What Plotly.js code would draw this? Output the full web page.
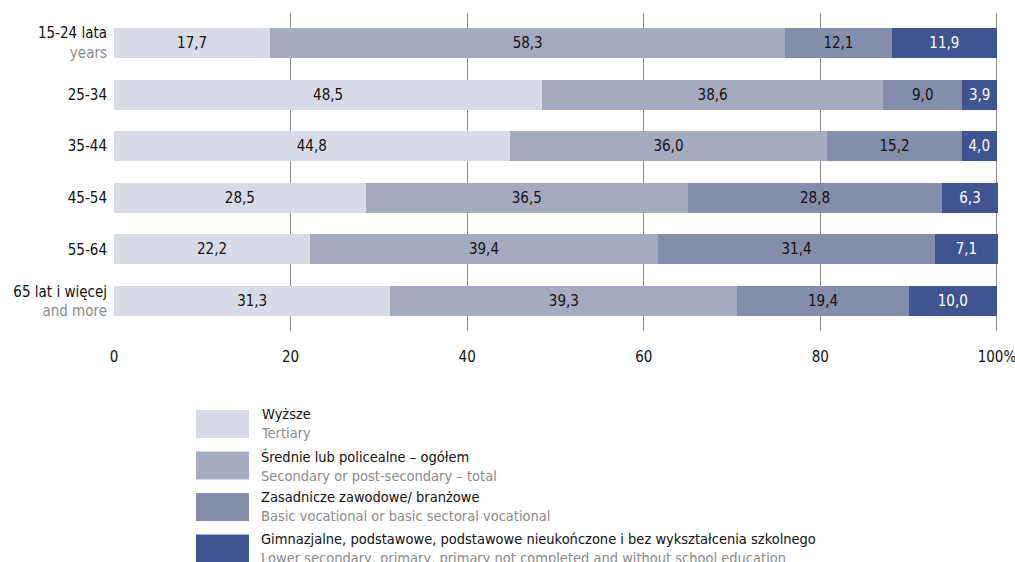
<!DOCTYPE html>
<html><head><meta charset="UTF-8"><title>Education by age</title>
<script src="https://cdn.plot.ly/plotly-3.0.1.min.js"></script>
<style>
  body, html { margin: 0; padding: 0; background: #ffffff; }
  #chart { width: 1015px; height: 562px; }
</style></head><body>
<div id="chart"></div>
<script>
  // age groups (top to bottom)
  const ageLabels = [
    "15-24 lata<br><span style='color:#8a8a8a'>years</span>",
    "25-34",
    "35-44",
    "45-54",
    "55-64",
    "65 lat i więcej<br><span style='color:#8a8a8a'>and more</span>"
  ];

  const tertiary   = [17.7, 48.5, 44.8, 28.5, 22.2, 31.3];
  const secondary  = [58.3, 38.6, 36.0, 36.5, 39.4, 39.3];
  const vocational = [12.1, 9.0, 15.2, 28.8, 31.4, 19.4];
  const lower      = [11.9, 3.9, 4.0, 6.3, 7.1, 10.0];

  const namesPl = ["Wyższe", "Średnie lub policealne – ogółem", "Zasadnicze zawodowe/ branżowe",
    "Gimnazjalne, podstawowe, podstawowe nieukończone i bez wykształcenia szkolnego"];
  const namesEn = ["Tertiary", "Secondary or post-secondary – total", "Basic vocational or basic sectoral vocational",
    "Lower secondary, primary, primary not completed and without school education"];

  const tickVals = [0, 20, 40, 60, 80, 100];
  const tickText = ["0", "20", "40", "60", "80", "100%"];

  const colors = ["#d8dbe5", "#a5aac0", "#858dab", "#3f5491"];
  const textColors = ["#111111", "#111111", "#111111", "#ffffff"];
  const FONT = "'Liberation Sans Narrow', 'Arial Narrow', 'DejaVu Sans Condensed', sans-serif";

  const series = [tertiary, secondary, vocational, lower];
  const fmt = v => v.toFixed(1).replace('.', ',');

  const traces = series.map((vals, i) => ({
    type: 'bar',
    orientation: 'h',
    y: ageLabels,
    x: vals,
    name: namesPl[i],
    marker: { color: colors[i] },
    width: 0.58,
    text: vals.map(fmt),
    textposition: 'inside',
    insidetextanchor: 'middle',
    textangle: 0,
    textfont: { family: FONT, size: 15, color: textColors[i] },
    hoverinfo: 'skip',
    showlegend: false
  }));

  // legend drawn below the chart
  const plotTop = 13, plotBottom = 331, plotLeft = 114, plotRight = 1000;
  const pxX = p => (p - plotLeft) / (plotRight - plotLeft);
  const pxY = p => (plotBottom - p) / (plotBottom - plotTop);
  const shapes = [];
  const annotations = [];
  colors.forEach((c, i) => {
    const top = 410 + i * 41.5;
    shapes.push({
      type: 'rect', xref: 'paper', yref: 'paper',
      x0: pxX(196), x1: pxX(249), y0: pxY(top + 28), y1: pxY(top),
      fillcolor: c, line: { width: 0 }
    });
    annotations.push({
      xref: 'paper', yref: 'paper', x: pxX(259), y: pxY(top - 6),
      xanchor: 'left', yanchor: 'top', align: 'left', showarrow: false,
      text: namesPl[i] + "<br><span style='color:#8a8a8a'>" + namesEn[i] + "</span>",
      font: { family: FONT, size: 14.5, color: '#111111' }
    });
  });

  const layout = {
    width: 1015, height: 562,
    barmode: 'stack',
    bargap: 0.42,
    margin: { l: plotLeft, r: 1015 - plotRight, t: plotTop, b: 562 - plotBottom },
    paper_bgcolor: '#ffffff',
    plot_bgcolor: '#ffffff',
    font: { family: FONT, size: 15, color: '#111111' },
    xaxis: {
      range: [0, 100.35],
      tickvals: tickVals,
      ticktext: tickText,
      ticklabeloverflow: 'allow',
      showgrid: true,
      gridcolor: '#8c8c8c',
      gridwidth: 1,
      zeroline: false,
      showline: false,
      ticks: 'outside',
      ticklen: 12,
      tickcolor: 'rgba(0,0,0,0)',
      tickfont: { family: FONT, size: 15, color: '#111111' },
      fixedrange: true
    },
    yaxis: {
      type: 'category',
      categoryorder: 'array',
      categoryarray: ageLabels,
      range: [5.58, -0.58],
      showgrid: false,
      zeroline: false,
      ticks: '',
      ticklabelstandoff: 6,
      tickfont: { family: FONT, size: 15, color: '#111111' },
      fixedrange: true
    },
    shapes: shapes,
    annotations: annotations,
    showlegend: false
  };

  Plotly.newPlot('chart', traces, layout, { displayModeBar: false, staticPlot: true });
</script>
</body></html>
